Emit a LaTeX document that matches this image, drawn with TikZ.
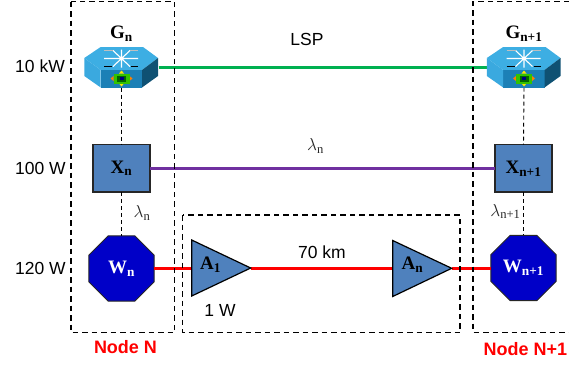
\documentclass[tikz,border=0pt]{standalone}
\usepackage{fontspec}
\setmainfont{Liberation Serif}
\setsansfont{Liberation Sans}
\usetikzlibrary{shapes.geometric}
\definecolor{boxblue}{HTML}{4F81BD}
\definecolor{octblue}{HTML}{0000C8}
\definecolor{rtop}{HTML}{3DAEE3}
\definecolor{rfront}{HTML}{1C80B6}
\definecolor{rside}{HTML}{0F5173}
\definecolor{lsp}{HTML}{00B050}
\definecolor{lam}{HTML}{7030A0}
\newcommand{\routericon}[1]{%
 \begin{scope}[xshift=#1 pt]
 \fill[rtop] (84.3,58)--(100.7,47)--(143,47)--(158,58)--(142,70)--(100.7,70)--cycle;
 \fill[rfront] (100.7,70)--(142,70)--(142,87.5)--(100.7,87.5)--cycle;
 \fill[rside] (142,70)--(158,58)--(158,76)--(142,87.5)--cycle;
 \fill[rtop!90!rfront] (84.3,58)--(100.7,70)--(100.7,87.5)--(84.3,76)--cycle;
 \draw[white,line width=1.1pt] (104,58.5)--(138,58.5) (113,50.5)--(130,66.5) (130,50.5)--(113,66.5) (121.5,49.5)--(121.5,67.5);
 \draw[white!75!black,line width=.8pt] (104,50.5)--(113,50.5) (130,50.5)--(138,50.5);
 \draw[black,line width=.7pt] (104,66.8)--(112,66.8) (131,66.8)--(138,66.8);
 \fill[yellow!90!orange] (121.5,70.5)--(124,73.5)--(119,73.5)--cycle (121.5,86.5)--(124,83.5)--(119,83.5)--cycle;
 \fill[orange] (110.5,78.5)--(113.5,76)--(113.5,81)--cycle (132.5,78.5)--(129.5,76)--(129.5,81)--cycle;
 \fill[green!70!black!80!yellow] (113.5,73.5) rectangle (129.5,83.5);
 \fill[green!40!black] (117,75.5) rectangle (126,81.5);
 \fill[blue!50!black] (119.5,77) rectangle (123.5,80);
 \end{scope}}
\tikzset{
 every node/.style={inner sep=0pt,outer sep=0pt},
 sanslabel/.style={font=\sffamily\fontsize{17.5}{20}\selectfont,text=black},
 lamlabel/.style={font=\fontsize{18}{20}\selectfont,text=black!85},
 devlabel/.style={font=\bfseries\fontsize{19}{21}\selectfont},
 nodelabel/.style={font=\sffamily\bfseries\fontsize{18}{20}\selectfont,text=red},
 dashbox/.style={draw=black,line width=1.2pt,dash pattern=on 5.5pt off 4pt},
 wirelink/.style={draw=black,line width=.9pt,dash pattern=on 4pt off 3pt},
 xbox/.style={draw=black!85,fill=boxblue,line width=1.6pt,minimum width=56.5pt,minimum height=47.5pt,devlabel},
 wnode/.style={regular polygon,regular polygon sides=8,draw=black!85,fill=octblue,line width=1pt,minimum size=70.4pt,devlabel,text=white},
 ampshape/.style={draw=black,fill=boxblue,line width=1.2pt,line join=miter},
 lspline/.style={draw=lsp,line width=2.4pt},
 lamline/.style={draw=lam,line width=2.6pt},
 redline/.style={draw=red,line width=2.4pt},
 rtbox/.style={minimum width=74pt,minimum height=40.5pt},
}
\begin{document}
\begin{tikzpicture}[x=1pt,y=-1pt]
\useasboundingbox (0,0) rectangle (569,364);
% anchors
\node[rtbox] (Gn) at (121.5,67.3) {};
\node[rtbox] (Gm) at (524,67.3) {};
\coordinate (A1in) at (191.7,268.5);
\coordinate (A1out) at (250.7,268.5);
\coordinate (Anin) at (392.7,268.5);
\coordinate (Anout) at (451.7,268.5);
% links beneath
\draw[lspline] (Gn.east) -- (Gm.west);
\node[xbox] (Xn) at (121.5,168.4) {};
\node[xbox] (Xm) at (523.5,168.4) {};
\node[wnode] (Wn) at (121.5,268.5) {};
\node[wnode] (Wm) at (523.5,268) {};
\draw[lamline] (Xn.east) -- (Xm.west);
\draw[wirelink] (Gn.south) -- (Xn.north);
\draw[wirelink] (Xn.south) -- (Wn.north);
\draw[wirelink] (Gm.south) -- (Xm.north);
\draw[wirelink] (Xm.south) -- (Wm.north);
\draw[redline] (Wn.east |- A1in) -- (A1in);
\draw[redline] (A1out) -- (Anin);
\draw[redline] (Anout) -- (Wm.west |- Anout);
% routers
\routericon{0}
\routericon{402.5}
% amps
\draw[ampshape] (191.7,240)--(191.7,296)--(250.7,268)--cycle;
\draw[ampshape] (392.7,240.5)--(392.7,296.5)--(451.7,268.3)--cycle;
% dashed frames
\draw[dashbox] (71,1.5) rectangle (174.5,332.5);
\draw[dashbox] (569,1.5) -- (473,1.5) -- (473,332.5) -- (569,332.5);
\draw[dashbox] (182.5,215) rectangle (460,332.5);
% labels
\node[devlabel] (GnL) at (121.5,33.5) {G\textsubscript{n}};
\node[devlabel] (GmL) at (524,33.5) {G\textsubscript{n+1}};
\node[devlabel] at (Xn) {X\textsubscript{n}};
\node[devlabel] at (Xm) {X\textsubscript{n+1}};
\node[devlabel,text=white] at (Wn) {W\textsubscript{n}};
\node[devlabel,text=white] at (Wm) {W\textsubscript{n+1}};
\node[devlabel] (A1L) at (210.5,265) {A\textsubscript{1}};
\node[devlabel] (AnL) at (412.5,265) {A\textsubscript{n}};
\node[sanslabel] (LSP) at (307,39) {LSP};
\node[sanslabel] (P1) at (40,66) {10 kW};
\node[sanslabel] (P2) at (40.5,168) {100 W};
\node[sanslabel] (P3) at (40.5,268) {120 W};
\node[sanslabel] (D) at (322,252) {70 km};
\node[sanslabel] (OneW) at (220,310) {1 W};
\node[lamlabel] (L1) at (315.5,146) {$\lambda$\textsubscript{n}};
\node[lamlabel] (L2) at (142,213) {$\lambda$\textsubscript{n}};
\node[lamlabel] (L3) at (505.5,211.5) {$\lambda$\textsubscript{n+1}};
\node[nodelabel] (NN) at (125.5,347) {Node N};
\node[nodelabel] (NM) at (525.5,349) {Node N+1};
\end{tikzpicture}
\end{document}
